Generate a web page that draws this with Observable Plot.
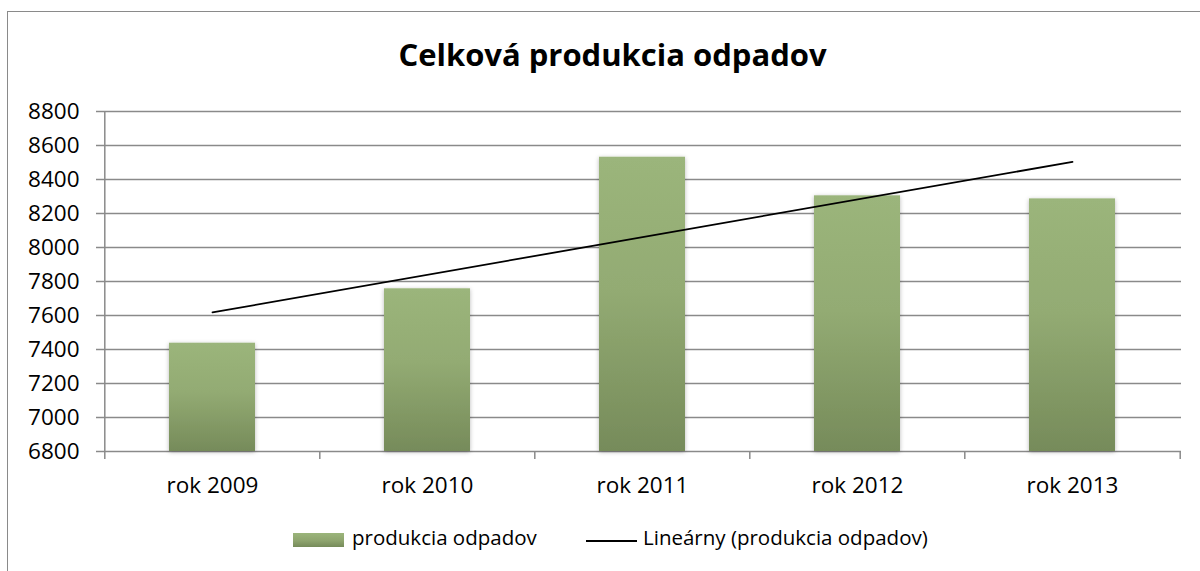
<!DOCTYPE html>
<html>
<head>
<meta charset="utf-8">
<script src="https://cdn.jsdelivr.net/npm/d3@7"></script>
<script src="https://cdn.jsdelivr.net/npm/@observablehq/plot@0.6"></script>
<style>
  html, body { margin: 0; padding: 0; background: #fff; }
  body { width: 1200px; height: 571px; overflow: hidden; position: relative; font-family: "Open Sans", sans-serif; color: #000; }
  #frame { position: absolute; left: 6.5px; top: 10.5px; width: 1212px; height: 620px; border: 1.5px solid #8a8a8a; box-sizing: border-box; }
  #title { position: absolute; left: 7px; width: 1211px; top: 39px; text-align: center; font-weight: bold; font-size: 31px; line-height: 31px; white-space: nowrap; }
  #chart { position: absolute; left: 0; top: 95px; }
  .lg { position: absolute; font-size: 20.5px; line-height: 20px; white-space: nowrap; }
  #sw1 { position: absolute; left: 293px; top: 533px; width: 51px; height: 14px; background: linear-gradient(to bottom, #9bb57b, #8ea46e 55%, #768b5a); }
  #sw2 { position: absolute; left: 586px; top: 539.5px; width: 51px; height: 0; border-top: 2px solid #000; }
</style>
</head>
<body>
<div id="frame"></div>
<div id="title"></div>
<div id="chart"></div>
<div id="sw1"></div>
<div class="lg" id="lt1" style="left:352px; top:527px;"></div>
<div id="sw2"></div>
<div class="lg" id="lt2" style="left:643px; top:527px;"></div>
<script>
// ---- data ----
const chartTitle = "Celková produkcia odpadov";
const categories = ["rok 2009", "rok 2010", "rok 2011", "rok 2012", "rok 2013"];
const values = [7437, 7757, 8531, 8304, 8286];
const trendCategories = ["rok 2009", "rok 2013"];
const trendValues = [7618, 8504];
const yTicks = [6800, 7000, 7200, 7400, 7600, 7800, 8000, 8200, 8400, 8600, 8800];
const seriesName = "produkcia odpadov";
const trendName = "Lineárny (produkcia odpadov)";

// ---- text ----
document.getElementById("title").textContent = chartTitle;
document.getElementById("lt1").textContent = seriesName;
document.getElementById("lt2").textContent = trendName;

// ---- tables ----
const bars = categories.map((c, i) => ({cat: c, value: values[i]}));
const trend = trendCategories.map((c, i) => ({cat: c, value: trendValues[i]}));

// ---- layout ----
const W = 1200, H = 405, mL = 104, mR = 19, mT = 16, mB = 49;
const step = (W - mL - mR) / categories.length;
const gray = "#8a8a8a";

const defs = () => {
  const d = d3.create("svg:defs");
  const g = d.append("linearGradient").attr("id", "barGrad").attr("x1", 0).attr("y1", 0).attr("x2", 0).attr("y2", 1);
  g.append("stop").attr("offset", "0%").attr("stop-color", "#9bb57b");
  g.append("stop").attr("offset", "45%").attr("stop-color", "#93ab73");
  g.append("stop").attr("offset", "100%").attr("stop-color", "#768b5a");
  const f = d.append("filter").attr("id", "barShadow").attr("x", "-20%").attr("y", "-20%").attr("width", "140%").attr("height", "140%");
  f.append("feDropShadow").attr("dx", 0).attr("dy", 1).attr("stdDeviation", 2.2).attr("flood-color", "#000").attr("flood-opacity", 0.28);
  return d.node();
};

const chart = Plot.plot({
  width: W, height: H,
  marginLeft: mL, marginRight: mR, marginTop: mT, marginBottom: mB,
  style: {fontFamily: "Open Sans, sans-serif", fontSize: "22.5px", color: "#000", background: "transparent", overflow: "visible"},
  x: {type: "band", domain: categories, paddingInner: 0.6, paddingOuter: 0.3, axis: null},
  y: {domain: [yTicks[0], yTicks[yTicks.length - 1]], axis: null},
  marks: [
    defs,
    Plot.gridY(yTicks, {stroke: gray, strokeOpacity: 1, strokeWidth: 1.5}),
    Plot.ruleX([categories[0]], {dx: -step / 2, stroke: gray, strokeWidth: 1.5}),
    Plot.barY(bars, {x: "cat", y1: yTicks[0], y2: "value", fill: "url(#barGrad)"}),
    Plot.axisY({ticks: yTicks, tickFormat: d3.format("d"), tickSize: 8, tickPadding: 17, stroke: gray, strokeWidth: 1.5, fill: "#000", fontSize: 22.5, label: null}),
    Plot.axisX({tickSize: 0, tickPadding: 26, fill: "#000", fontSize: 22.5, label: null}),
    Plot.axisX({tickSize: 8, tickFormat: () => "", dx: -step / 2, stroke: gray, strokeWidth: 1.5, label: null}),
    Plot.axisX({ticks: [categories[categories.length - 1]], tickSize: 8, tickFormat: () => "", dx: step / 2, stroke: gray, strokeWidth: 1.5, label: null}),
    Plot.line(trend, {x: "cat", y: "value", stroke: "#000", strokeWidth: 1.8})
  ]
});
chart.querySelectorAll("rect").forEach(r => { if ((r.getAttribute("fill") || r.parentNode.getAttribute("fill") || "").includes("barGrad")) r.setAttribute("filter", "url(#barShadow)"); });
document.getElementById("chart").appendChild(chart);
</script>
</body>
</html>
